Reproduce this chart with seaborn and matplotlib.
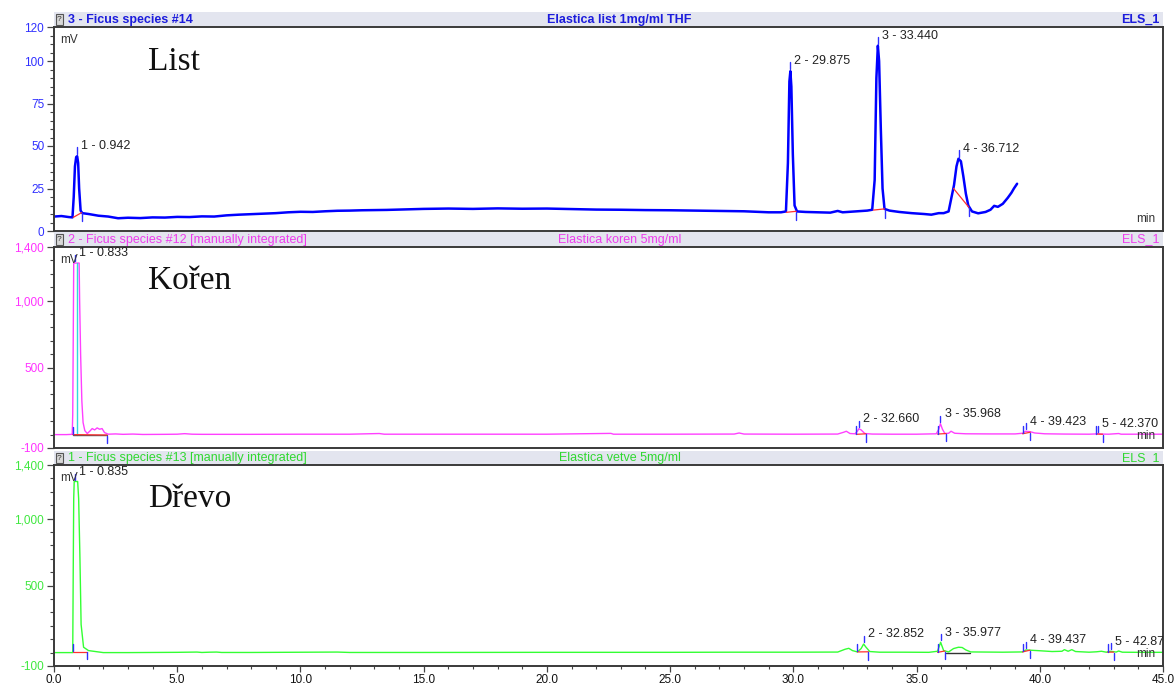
import seaborn as sns
import matplotlib.pyplot as plt
from matplotlib.ticker import FixedLocator, MultipleLocator, FuncFormatter
from matplotlib.patches import Rectangle

# ---------------- data ----------------
# List (Elastica list 1mg/ml THF), mV
list_t = [0.0, 0.3, 0.6, 0.75, 0.8, 0.85, 0.9, 0.94, 0.98, 1.02, 1.08, 1.15, 1.4, 1.8, 2.2, 2.6,
          3.0, 3.5, 4.0, 4.5, 5.0, 5.5, 6.0, 6.5, 7.0, 7.5, 8.0, 8.5, 9.0, 9.5, 10.0, 10.5, 11.0,
          11.5, 12.0, 12.5, 13.0, 13.5, 14.0, 14.5, 15.0, 15.5, 16.0, 17.0, 18.0, 19.0, 20.0,
          21.0, 22.0, 23.0, 24.0, 25.0, 26.0, 27.0, 28.0, 28.5, 29.0, 29.5, 29.7, 29.78, 29.84,
          29.88, 29.92, 29.98, 30.05, 30.15, 30.5, 31.0, 31.5, 31.8, 32.0, 32.5, 33.0, 33.2, 33.3,
          33.37, 33.43, 33.48, 33.55, 33.62, 33.7, 33.9, 34.3, 34.8, 35.3, 35.6, 35.9, 36.1, 36.3,
          36.42, 36.52, 36.62, 36.7, 36.8, 36.9, 37.0, 37.1, 37.25, 37.5, 37.8, 38.0, 38.15, 38.3,
          38.5, 38.7, 38.85, 38.95, 39.08]
list_mv = [8.5, 8.8, 8.2, 8.0, 20, 38, 43.5, 44, 40, 25, 12, 10.5, 10.0, 9.0, 8.5, 7.5,
           7.8, 7.6, 8.0, 7.9, 8.3, 8.2, 8.6, 8.5, 9.2, 9.6, 9.9, 10.2, 10.5, 11.0, 11.3, 11.2, 11.6,
           11.9, 12.0, 12.2, 12.3, 12.4, 12.6, 12.8, 13.0, 13.1, 13.2, 13.0, 13.3, 13.1, 13.2,
           12.9, 12.6, 12.5, 12.3, 12.2, 12.0, 11.8, 11.6, 11.3, 11.0, 11.0, 11.5, 40, 88,
           94, 85, 45, 15, 11.5, 11.2, 11.0, 10.8, 11.8, 11.0, 11.5, 12.0, 12.5, 30,
           90, 109, 100, 60, 25, 13, 12, 11.2, 10.5, 10.0, 9.6, 10.5, 10.5, 11.5,
           20, 27, 38, 42.5, 41, 32, 22, 15, 11.5, 10.4, 11.2, 12.5, 14.8, 14.2,
           16, 19.5, 22.5, 25, 27.8]
list_peak_rt = [0.942, 29.875, 33.440, 36.712]
list_peak_mv = [44.0, 94.0, 109.0, 42.5]
list_start_t = [0.78, 29.72, 33.25, 36.5]
list_start_mv = [8.0, 11.0, 12.3, 25.0]
list_end_t = [1.12, 30.12, 33.7, 37.12]
list_end_mv = [10.8, 11.6, 13.0, 14.0]

# Koren (Elastica koren 5mg/ml), mV
koren_t = [0.0, 0.5, 0.74, 0.76, 0.78, 0.8, 1.02, 1.04, 1.08, 1.13, 1.18, 1.25, 1.35, 1.45, 1.55,
           1.65, 1.75, 1.85, 1.95, 2.05, 2.2, 2.5, 2.8, 3.2, 3.6, 4.5, 5.0, 5.3, 5.6, 6.0, 8.0,
           10.0, 12.0, 13.2, 13.4, 15.0, 20.0, 22.6, 22.7, 25.0, 27.6, 27.8, 28.0, 30.0, 31.8,
           32.05, 32.15, 32.3, 32.5, 32.6, 32.66, 32.75, 32.9, 33.2, 34.0, 35.0, 35.8, 35.9,
           35.968, 36.05, 36.15, 36.3, 36.4, 36.55, 37.0, 38.0, 39.0, 39.3, 39.423, 39.6, 39.8,
           40.2, 41.0, 42.0, 42.3, 42.37, 42.45, 42.8, 43.2, 43.3, 44.5, 45.0]
koren_mv = [0, 0, 2, 150, 700, 1280, 1280, 1000, 600, 250, 90, 30, 8, 25, 45,
            35, 50, 40, 45, 15, 3, 5, 2, 4, 1, 2, 3, 7, 3, 2, 2,
            3, 3, 8, 3, 3, 3, 9, 3, 3, 4, 12, 4, 3, 4,
            18, 25, 8, 6, 25, 44, 35, 8, 4, 3, 3, 6, 40,
            82, 40, 8, 10, 25, 10, 6, 5, 5, 10, 25, 22, 12,
            6, 4, 3, 5, 8, 4, 3, 8, 3, 3, 3]
koren_peak_rt = [0.833, 32.660, 35.968, 39.423, 42.370]
koren_peak_mv = [1280, 44, 82, 25, 8]
koren_start_t = [0.76, 32.55, 35.85, 39.3, 42.3]
koren_start_mv = [0, 2, 4, 6, 4]
koren_end_t = [2.15, 32.95, 36.2, 39.62, 42.55]
koren_end_mv = [-3, 6, 8, 18, 3]

# Drevo (Elastica vetve 5mg/ml), mV
drevo_t = [0.0, 0.5, 0.76, 0.78, 0.8, 0.82, 0.96, 1.0, 1.05, 1.1, 1.2, 1.4, 1.6, 2.0, 3.0, 5.0,
           5.8, 6.0, 6.3, 6.6, 6.8, 8.0, 11.5, 12.0, 15.0, 20.0, 25.0, 27.5, 30.0, 31.8, 32.1,
           32.25, 32.4, 32.6, 32.75, 32.852, 32.95, 33.1, 33.5, 34.5, 35.5, 35.85, 35.977, 36.1,
           36.3, 36.5, 36.7, 36.85, 37.0, 37.2, 38.5, 39.3, 39.437, 39.6, 39.9, 40.5, 40.9, 41.0,
           41.15, 41.3, 41.45, 42.0, 42.3, 42.5, 42.7, 42.87, 43.1, 43.2, 43.35, 44.0, 45.0]
drevo_mv = [0, 0, 0, 600, 1150, 1277, 1277, 1150, 730, 210, 40, 15, 10, 0, 0, 2,
            4, 1, 3, 4, 1, 1, 4, 1, 1, 2, 2, 3, 3, 4, 25,
            32, 15, 5, 30, 64, 40, 8, 3, 3, 2, 10, 77, 15,
            5, 30, 40, 38, 20, 5, 3, 5, 20, 18, 15, 8, 10, 22,
            10, 22, 8, 3, 6, 10, 3, 10, 4, 12, 3, 2, 2]
drevo_peak_rt = [0.835, 32.852, 35.977, 39.437, 42.870]
drevo_peak_mv = [1277, 64, 77, 20, 10]
drevo_start_t = [0.78, 32.6, 35.85, 39.3, 42.75]
drevo_start_mv = [8, 5, 2, 5, 3]
drevo_end_t = [1.35, 33.05, 36.15, 39.6, 43.0]
drevo_end_mv = [8, 6, 12, 18, 4]

# ---------------- style ----------------
sns.set_style("white")
plt.rcParams['font.family'] = ['Liberation Sans', 'DejaVu Sans']

W_PX, H_PX = 1175, 690
fig = plt.figure(figsize=(W_PX / 100, H_PX / 100), dpi=100)
LEFT, RIGHT = 54, 1163


def rect(top, bottom):
    return [LEFT / W_PX, 1 - bottom / H_PX, (RIGHT - LEFT) / W_PX, (bottom - top) / H_PX]


panels = [
    dict(t=list_t, mv=list_mv, rt=list_peak_rt, pk=list_peak_mv,
         st=list_start_t, sv=list_start_mv, et=list_end_t, ev=list_end_mv,
         color='#0000ff', tick_color='#3030ff', head_color='#1c1cdc', bold=True, lw=1.8,
         head_left='3 - Ficus species #14', head_mid='Elastica list 1mg/ml THF',
         name='List', ylim=(0, 120), yticks=[0, 25, 50, 75, 100, 120], minor=5,
         ax_px=(27, 231), head_px=(12, 27), tick_len=4.0, gap=1.2, start_ticks=False),
    dict(t=koren_t, mv=koren_mv, rt=koren_peak_rt, pk=koren_peak_mv,
         st=koren_start_t, sv=koren_start_mv, et=koren_end_t, ev=koren_end_mv,
         color='#ff40ff', tick_color='#ff33ff', head_color='#ee3cee', bold=False, lw=1.0,
         head_left='2 - Ficus species #12 [manually integrated]', head_mid='Elastica koren 5mg/ml',
         name='Kořen', ylim=(-100, 1400), yticks=[-100, 500, 1000, 1400], minor=100,
         ax_px=(247, 448), head_px=(232, 247), tick_len=45, gap=14, start_ticks=True),
    dict(t=drevo_t, mv=drevo_mv, rt=drevo_peak_rt, pk=drevo_peak_mv,
         st=drevo_start_t, sv=drevo_start_mv, et=drevo_end_t, ev=drevo_end_mv,
         color='#33ff33', tick_color='#3fe83f', head_color='#30d830', bold=False, lw=1.0,
         head_left='1 - Ficus species #13 [manually integrated]', head_mid='Elastica vetve 5mg/ml',
         name='Dřevo', ylim=(-100, 1400), yticks=[-100, 500, 1000, 1400], minor=100,
         ax_px=(465, 666), head_px=(451, 465), tick_len=45, gap=14, start_ticks=True),
]

for i, p in enumerate(panels):
    # header strip
    hax = fig.add_axes(rect(*p['head_px']))
    hax.set_facecolor('#e3e5ef')
    hax.set_xlim(0, 1)
    hax.set_ylim(0, 1)
    hax.set_xticks([])
    hax.set_yticks([])
    for s in hax.spines.values():
        s.set_visible(False)
    hax.add_patch(Rectangle((0.002, 0.12), 0.0065, 0.72, facecolor='#d8d8d8',
                            edgecolor='#555555', linewidth=0.8))
    hax.text(0.0025, 0.5, '?', fontsize=6, color='#333333', va='center')
    weight = 'bold' if p['bold'] else 'normal'
    hax.text(0.0125, 0.5, p['head_left'], color=p['head_color'], fontsize=9, va='center',
             ha='left', fontweight=weight)
    hax.text(0.51, 0.5, p['head_mid'], color=p['head_color'], fontsize=9, va='center',
             ha='center', fontweight=weight)
    hax.text(0.997, 0.5, 'ELS_1', color=p['head_color'], fontsize=9, va='center',
             ha='right', fontweight=weight)

    # chromatogram
    ax = fig.add_axes(rect(*p['ax_px']))
    sns.lineplot(x=p['t'], y=p['mv'], ax=ax, color=p['color'], linewidth=p['lw'],
                 estimator=None, sort=False)

    if i == 1:
        ax.plot([0.95, 0.95], [0, 1280], color='#30d8e0', linewidth=1.0)
        ax.plot([0.76, 2.15], [-3, -3], color='#555555', linewidth=1.0)
    if i == 2:
        ax.plot([36.2, 37.15], [0, 0], color='#333333', linewidth=1.0)

    for rt, pk, st, sv, et, ev in zip(p['rt'], p['pk'], p['st'], p['sv'], p['et'], p['ev']):
        ax.plot([st, et], [sv, ev], color='#ff3030', linewidth=0.9)
        ax.plot([rt, rt], [pk + p['gap'], pk + p['gap'] + p['tick_len']],
                color='#3030ff', linewidth=1.0)
        ax.plot([et, et], [ev - p['gap'] * 0.3, ev - p['gap'] * 0.3 - p['tick_len'] * 1.2],
                color='#3030ff', linewidth=1.0)
        if p['start_ticks']:
            ax.plot([st, st], [sv + p['gap'] * 0.3, sv + p['tick_len'] * 1.3],
                    color='#3030ff', linewidth=1.0)
        n = p['rt'].index(rt) + 1
        ax.annotate(f'{n} - {rt:.3f}', xy=(rt, pk), xytext=(3, 7), textcoords='offset points',
                    fontsize=9, color='#222222', ha='left', va='center', annotation_clip=False,
                    clip_on=True)

    ax.set_xlim(0, 45)
    ax.set_ylim(*p['ylim'])
    ax.set_xlabel('')
    ax.set_ylabel('')
    ax.yaxis.set_major_locator(FixedLocator(p['yticks']))
    ax.yaxis.set_minor_locator(MultipleLocator(p['minor']))
    ax.yaxis.set_major_formatter(FuncFormatter(lambda v, pos: f'{v:,.0f}'))
    ax.tick_params(axis='y', which='major', left=True, length=5, width=0.9, color='#444444',
                   labelsize=8.5, labelcolor=p['tick_color'], pad=2)
    ax.tick_params(axis='y', which='minor', left=True, length=3, width=0.8, color='#444444')
    if i < 2:
        ax.tick_params(axis='x', which='both', bottom=False, labelbottom=False)
    else:
        ax.xaxis.set_major_locator(MultipleLocator(5))
        ax.xaxis.set_minor_locator(MultipleLocator(1))
        ax.xaxis.set_major_formatter(FuncFormatter(lambda v, pos: f'{v:.1f}'))
        ax.tick_params(axis='x', which='major', bottom=True, length=4, width=0.9,
                       color='#444444', labelsize=8.5, labelcolor='#111111', pad=1.5)
        ax.tick_params(axis='x', which='minor', bottom=True, length=2.5, width=0.8,
                       color='#444444')
    for s in ax.spines.values():
        s.set_visible(True)
        s.set_color('#3a3a3a')
        s.set_linewidth(1.4)

    ax.text(0.006, 0.935, 'mV', transform=ax.transAxes, fontsize=8.5, color='#333333',
            ha='left', va='center')
    ax.text(0.993, 0.06, 'min', transform=ax.transAxes, fontsize=8.5, color='#333333',
            ha='right', va='center')
    ax.text(0.085, 0.83, p['name'], transform=ax.transAxes, fontsize=24,
            family=['Liberation Serif', 'DejaVu Serif'], color='#111111', ha='left',
            va='center')

fig.savefig('out.png', dpi=100)
